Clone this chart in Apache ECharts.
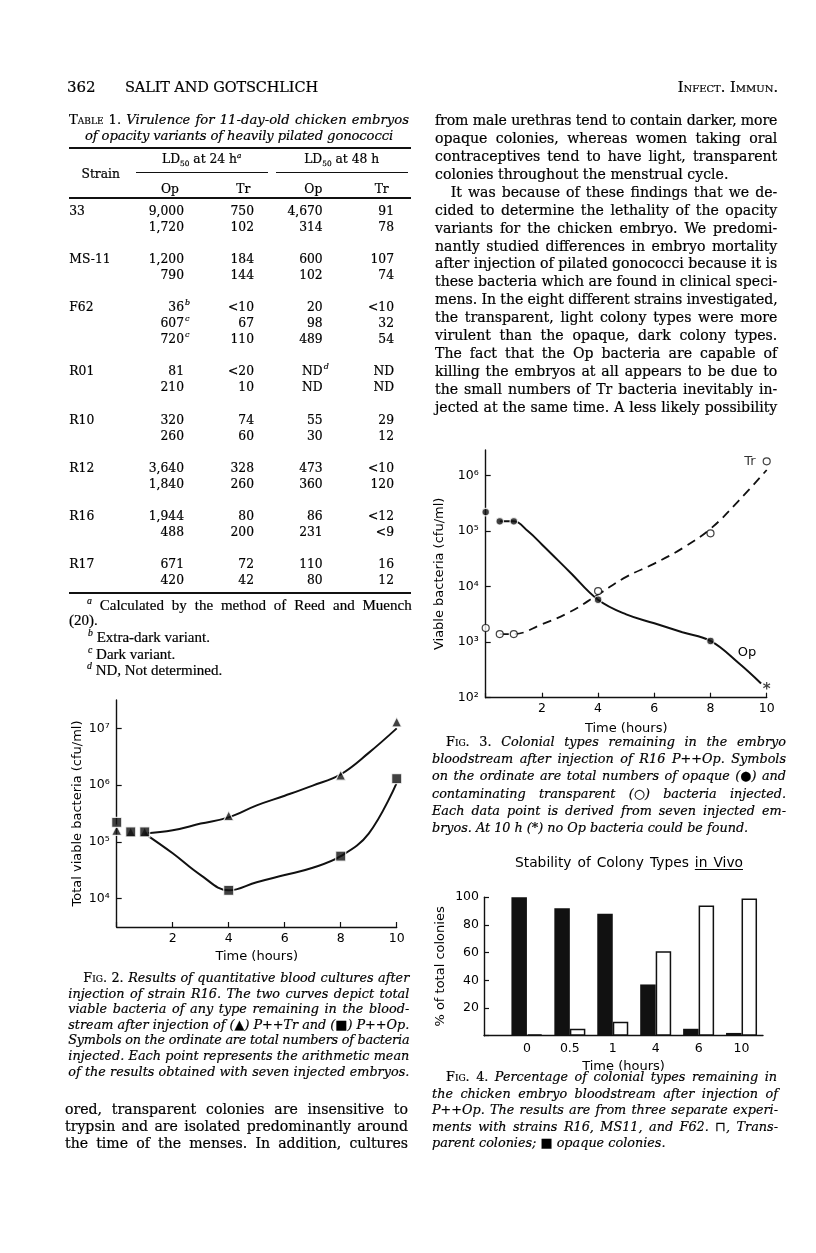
<!DOCTYPE html>
<html><head><meta charset="utf-8">
<script src="https://cdn.jsdelivr.net/npm/echarts@6/dist/echarts.min.js"></script>
<style>
html,body{margin:0;padding:0;background:#fff;}
#page{position:relative;width:816px;height:1253px;overflow:hidden;background:#fff;}
#chart{position:absolute;left:0;top:0;width:816px;height:1253px;}
.t{position:absolute;white-space:nowrap;color:#000;line-height:1;-webkit-text-stroke:0.2px #000;}
.sc{font-style:normal;font-variant:small-caps;}
.rule{position:absolute;background:#111;}
sup,sub{line-height:0;}
</style>
</head><body>
<div id="page"><div id="chart"></div></div>
<script>
// ---------------- DATA ----------------
// Fig. 2: total viable bacteria (cfu/ml) after injection of R16
const fig2Hours = [0, 0.5, 1, 4, 8, 10];
const fig2Tr = [1.6e5, 1.5e5, 1.5e5, 2.9e5, 1.5e6, 1.3e7];      // triangles, P++Tr
const fig2Op = [2.2e5, 1.5e5, 1.5e5, 1.4e4, 5.6e4, 1.3e6];      // squares, P++Op
const fig2CurveHours = [1, 2, 3, 4, 5, 6, 7, 8, 9, 10];
const fig2TrCurve = [1.4e5, 1.6e5, 2.1e5, 2.7e5, 4.4e5, 6.5e5, 9.8e5, 1.55e6, 3.7e6, 1.0e7];
const fig2OpCurve = [1.4e5, 6.3e4, 2.6e4, 1.4e4, 1.95e4, 2.6e4, 3.5e4, 5.6e4, 1.4e5, 1.1e6];
const fig2YTicks = [4, 5, 6, 7];           // log10 exponents
const fig2XTicks = [2, 4, 6, 8, 10];

// Fig. 3: colonial types in bloodstream after R16 P++Op
const fig3OpHours = [0, 0.5, 1, 4, 8];
const fig3Op = [2.2e5, 1.5e5, 1.5e5, 5.8e3, 1.05e3];            // filled circles
const fig3OpNone = [[10, 160]];                                  // asterisk: no Op found
const fig3TrHours = [0, 0.5, 1, 4, 8, 10];
const fig3Tr = [1.8e3, 1.4e3, 1.4e3, 8.3e3, 9.1e4, 1.8e6];      // open circles
const fig3OpCurveHours = [0.5, 1, 1.5, 2, 3, 4, 5, 6, 7, 8, 9, 9.8];
const fig3OpCurve = [1.5e5, 1.5e5, 1.0e5, 5.75e4, 1.82e4, 5.8e3, 3.16e3, 2.19e3, 1.51e3, 1.05e3, 4.2e2, 1.8e2];
const fig3TrCurveHours = [0.5, 1, 2, 3, 4, 5, 6, 7, 8, 9, 10];
const fig3TrCurve = [1.4e3, 1.4e3, 2.1e3, 3.5e3, 7.2e3, 1.5e4, 2.6e4, 4.9e4, 1.1e5, 3.5e5, 1.26e6];
const fig3YTicks = [2, 3, 4, 5, 6];

// Fig. 4: stability of colony types in vivo (% of total colonies)
const fig4Times = ['0', '0.5', '1', '4', '6', '10'];
const fig4Opaque = [100, 92, 88, 37, 5, 2];
const fig4Transparent = [1, 5, 10, 61, 94, 99];
const fig4YTicks = [20, 40, 60, 80, 100];

// Table 1
const tableStrains = ['33', 'MS-11', 'F62', 'R01', 'R10', 'R12', 'R16', 'R17'];
const tableGroupSizes = [2, 2, 3, 2, 2, 2, 2, 2];
const tableRows = [
  ['9,000','750','4,670','91'], ['1,720','102','314','78'],
  ['1,200','184','600','107'], ['790','144','102','74'],
  ['36^b','<10','20','<10'], ['607^c','67','98','32'], ['720^c','110','489','54'],
  ['81','<20','ND^d','ND'], ['210','10','ND','ND'],
  ['320','74','55','29'], ['260','60','30','12'],
  ['3,640','328','473','<10'], ['1,840','260','360','120'],
  ['1,944','80','86','<12'], ['488','200','231','<9'],
  ['671','72','110','16'], ['420','42','80','12']
];

// ---------------- TEXT ----------------
const page = document.getElementById('page');
const SERIF = '"DejaVu Serif", serif';
const TIMES = '"Liberation Serif", serif';
const SANS = '"DejaVu Sans", sans-serif';
function put(html, x, y, o) {
  o = o || {};
  const size = o.size || 13;
  const d = document.createElement('div');
  d.className = 't';
  d.innerHTML = html;
  d.style.fontFamily = o.font || SERIF;
  d.style.fontSize = size + 'px';
  if (o.italic) d.style.fontStyle = 'italic';
  if (o.weight) d.style.fontWeight = o.weight;
  if (o.nostroke) d.style.webkitTextStroke = '0px';
  page.appendChild(d);
  let w = d.getBoundingClientRect().width;
  if (o.w) {
    const txt = d.textContent;
    const spaces = (txt.match(/ /g) || []).length;
    if (w > o.w || !spaces) {
      d.style.letterSpacing = ((o.w - w) / txt.length) + 'px';
    } else {
      d.style.wordSpacing = ((o.w - w) / spaces) + 'px';
    }
    w = o.w;
  }
  let left = x;
  if (o.align === 'right') left = x - w;
  else if (o.align === 'center') left = x - w / 2;
  d.style.left = left + 'px';
  d.style.top = (y - size * 0.55) + 'px';
  return d;
}
function rule(x1, x2, y, h) {
  const r = document.createElement('div');
  r.className = 'rule';
  r.style.left = x1 + 'px'; r.style.width = (x2 - x1) + 'px';
  r.style.top = (y - h / 2) + 'px'; r.style.height = h + 'px';
  page.appendChild(r);
}

// running head
put('362', 67, 88, {size: 15});
put('SALIT AND GOTSCHLICH', 125, 88, {size: 14.5, w: 193});
put('<span style="font-variant:small-caps">Infect. Immun.</span>', 778, 88, {size: 14.5, align: 'right'});

// table title
put('<span class="sc">Table</span> 1. <i>Virulence for 11-day-old chicken embryos</i>', 69, 120, {size: 13.2, w: 340});
put('<i>of opacity variants of heavily pilated gonococci</i>', 85, 136.7, {size: 13.2, w: 308});
rule(69, 411, 148, 2);
put('LD<sub style="font-size:0.6em">50</sub> at 24 h<sup style="font-size:0.6em"><i>a</i></sup>', 201.7, 160, {size: 12.3, align: 'center'});
put('LD<sub style="font-size:0.6em">50</sub> at 48 h', 341.7, 160, {size: 12.3, align: 'center'});
rule(136, 268, 172.3, 1.2);
rule(276, 407.7, 172.3, 1.2);
put('Strain', 100.7, 175, {size: 12.3, align: 'center'});
const headCols = [['Op', 170], ['Tr', 243.3], ['Op', 313.3], ['Tr', 381.7]];
headCols.forEach(c => put(c[0], c[1], 190, {size: 12.3, align: 'center'}));
rule(69, 411, 198, 1.4);
const colRight = [184, 254, 322.7, 394];
let rowIdx = 0, k = 0;
tableGroupSizes.forEach((n, g) => {
  for (let r = 0; r < n; r++) {
    const y = 211.7 + 16.05 * k;
    if (r === 0) put(tableStrains[g], 69.3, y, {size: 12.3});
    tableRows[rowIdx].forEach((cell, c) => {
      const parts = cell.split('^');
      put(parts[0].replace('<', '&lt;'), colRight[c], y, {size: 12.3, align: 'right'});
      if (parts[1]) put('<i>' + parts[1] + '</i>', colRight[c] + 1, y - 4.5, {size: 8});
    });
    rowIdx++; k++;
  }
  k++;
});
rule(69, 411, 593.3, 2);
// footnotes
put('<sup style="font-size:0.65em"><i>a</i></sup> Calculated by the method of Reed and Muench', 87, 606.7, {size: 15, font: TIMES, w: 324.7});
put('(20).', 69, 621.7, {size: 15, font: TIMES});
put('<sup style="font-size:0.65em"><i>b</i></sup> Extra-dark variant.', 88, 638.3, {size: 15, font: TIMES});
put('<sup style="font-size:0.65em"><i>c</i></sup> Dark variant.', 88, 655, {size: 15, font: TIMES});
put('<sup style="font-size:0.65em"><i>d</i></sup> ND, Not determined.', 87, 671.7, {size: 15, font: TIMES});

// right column body
const bodyRight = [
  'from male urethras tend to contain darker, more',
  'opaque colonies, whereas women taking oral',
  'contraceptives tend to have light, transparent',
  'colonies throughout the menstrual cycle.',
  'It was because of these findings that we de-',
  'cided to determine the lethality of the opacity',
  'variants for the chicken embryo. We predomi-',
  'nantly studied differences in embryo mortality',
  'after injection of pilated gonococci because it is',
  'these bacteria which are found in clinical speci-',
  'mens. In the eight different strains investigated,',
  'the transparent, light colony types were more',
  'virulent than the opaque, dark colony types.',
  'The fact that the Op bacteria are capable of',
  'killing the embryos at all appears to be due to',
  'the small numbers of Tr bacteria inevitably in-',
  'jected at the same time. A less likely possibility'
];
const BODY = 14.1;
bodyRight.forEach((s, i) => {
  const y = 121 + 17.9 * i;
  if (i === 3) put(s, 435, y, {size: BODY});
  else if (i === 4) put(s, 450.7, y, {size: BODY, w: 326.6});
  else put(s, 435, y, {size: BODY, w: 342.3});
});

// left column body (bottom)
const bodyLeft = [
  'ored, transparent colonies are insensitive to',
  'trypsin and are isolated predominantly around',
  'the time of the menses. In addition, cultures'
];
bodyLeft.forEach((s, i) => put(s, 65, 1110 + 17 * i, {size: BODY, w: 343}));

// captions
const CAP = 12.8;
const cap2 = [
  '<span class="sc">Fig. 2.</span> Results of quantitative blood cultures after',
  'injection of strain R16. The two curves depict total',
  'viable bacteria of any type remaining in the blood-',
  'stream after injection of (<span style="font-style:normal">▲</span>) P++Tr and (<span style="font-style:normal">■</span>) P++Op.',
  'Symbols on the ordinate are total numbers of bacteria',
  'injected. Each point represents the arithmetic mean',
  'of the results obtained with seven injected embryos.'
];
cap2.forEach((s, i) => {
  const y = 979 + 15.6 * i;
  if (i === 0) put(s, 83.3, y, {size: CAP, italic: true, w: 326});
  else put(s, 68.3, y, {size: CAP, italic: true, w: 341});
});
const cap3 = [
  '<span class="sc">Fig. 3.</span> Colonial types remaining in the embryo',
  'bloodstream after injection of R16 P++Op. Symbols',
  'on the ordinate are total numbers of opaque (<span style="font-style:normal">●</span>) and',
  'contaminating transparent (<span style="font-style:normal">○</span>) bacteria injected.',
  'Each data point is derived from seven injected em-',
  'bryos. At 10 h (*) no Op bacteria could be found.'
];
cap3.forEach((s, i) => {
  const y = 743.3 + 17.1 * i;
  if (i === 0) put(s, 446, y, {size: CAP, italic: true, w: 340});
  else if (i === 5) put(s, 432, y, {size: CAP, italic: true});
  else put(s, 432, y, {size: CAP, italic: true, w: 354});
});
const cap4 = [
  '<span class="sc">Fig. 4.</span> Percentage of colonial types remaining in',
  'the chicken embryo bloodstream after injection of',
  'P++Op. The results are from three separate experi-',
  'ments with strains R16, MS11, and F62. <span style="font-style:normal">⊓</span>, Trans-',
  'parent colonies; <span style="font-style:normal">■</span> opaque colonies.'
];
cap4.forEach((s, i) => {
  const y = 1078.3 + 16.5 * i;
  if (i === 0) put(s, 446, y, {size: CAP, italic: true, w: 331});
  else if (i === 4) put(s, 432, y, {size: CAP, italic: true});
  else put(s, 432, y, {size: CAP, italic: true, w: 346});
});

// Fig 4 heading
put('Stability of Colony Types <u style="text-underline-offset:2px">in Vivo</u>', 629, 864, {size: 13.8, font: SANS, align: 'center', w: 228, nostroke: true});

// ---------------- CHART ----------------
const INK = '#111';
const L = v => Math.log10(v);
const pairs = (xs, vs) => xs.map((x, i) => [x, L(vs[i])]);
const supDigits = {2: '²', 3: '³', 4: '⁴', 5: '⁵', 6: '⁶', 7: '⁷'};
const powLabel = v => (Number.isInteger(v) && supDigits[v]) ? '10' + supDigits[v] : '';
const labelFont = {fontFamily: SANS, fontSize: 12.5, color: '#000'};
const nameFont = {fontFamily: SANS, fontSize: 13, color: '#000'};
const line = {show: true, onZero: false, lineStyle: {color: INK, width: 1.4}};

const chart = echarts.init(document.getElementById('chart'), null, {renderer: 'canvas'});
chart.setOption({
  animation: false,
  grid: [
    {left: 116.7, top: 700, width: 280, height: 227},
    {left: 485.7, top: 450, width: 281, height: 247.7},
    {left: 484, top: 897.2, width: 279, height: 138.5}
  ],
  xAxis: [
    {gridIndex: 0, type: 'value', min: 0, max: 10, interval: 2,
     axisLine: line, splitLine: {show: false},
     axisTick: {inside: true, length: 5, lineStyle: {color: INK, width: 1.2}},
     axisLabel: Object.assign({margin: 5, formatter: v => fig2XTicks.includes(v) ? String(v) : ''}, labelFont),
     name: 'Time (hours)', nameLocation: 'middle', nameGap: 23, nameTextStyle: nameFont},
    {gridIndex: 1, type: 'value', min: 0, max: 10, interval: 2,
     axisLine: line, splitLine: {show: false},
     axisTick: {inside: true, length: 5, lineStyle: {color: INK, width: 1.2}},
     axisLabel: Object.assign({margin: 5, formatter: v => v > 0 ? String(v) : ''}, labelFont),
     name: 'Time (hours)', nameLocation: 'middle', nameGap: 24, nameTextStyle: nameFont},
    {gridIndex: 2, type: 'value', min: -1, max: 5.5, interval: 1,
     axisLine: line, splitLine: {show: false}, axisTick: {show: false},
     axisLabel: Object.assign({margin: 7, formatter: v => (Number.isInteger(v) && v >= 0 && v < fig4Times.length) ? fig4Times[v] : ''}, labelFont),
     name: 'Time (hours)', nameLocation: 'middle', nameGap: 24, nameTextStyle: nameFont}
  ],
  yAxis: [
    {gridIndex: 0, type: 'value', min: 3.5, max: 7.5, interval: 0.5,
     axisLine: line, splitLine: {show: false},
     axisTick: {inside: true, length: 5, customValues: fig2YTicks, lineStyle: {color: INK, width: 1.2}},
     axisLabel: Object.assign({margin: 7, customValues: fig2YTicks, formatter: powLabel}, labelFont),
     name: 'Total viable bacteria (cfu/ml)', nameLocation: 'middle', nameGap: 33, nameTextStyle: nameFont},
    {gridIndex: 1, type: 'value', min: 2, max: 6.46, interval: 0.5,
     axisLine: line, splitLine: {show: false},
     axisTick: {inside: true, length: 5, customValues: fig3YTicks, lineStyle: {color: INK, width: 1.2}},
     axisLabel: Object.assign({margin: 7, customValues: fig3YTicks, formatter: powLabel}, labelFont),
     name: 'Viable bacteria (cfu/ml)', nameLocation: 'middle', nameGap: 40, nameTextStyle: nameFont},
    {gridIndex: 2, type: 'value', min: 0, max: 100, interval: 20,
     axisLine: line, splitLine: {show: false},
     axisTick: {inside: true, length: 5, lineStyle: {color: INK, width: 1.2}},
     axisLabel: Object.assign({margin: 5, formatter: v => fig4YTicks.includes(v) ? String(v) : ''}, labelFont),
     name: '% of total colonies', nameLocation: 'middle', nameGap: 37, nameTextStyle: nameFont}
  ],
  series: [
    // Fig 2
    {type: 'line', xAxisIndex: 0, yAxisIndex: 0, smooth: 0.4, showSymbol: false, symbol: 'none',
     data: pairs(fig2CurveHours, fig2TrCurve), lineStyle: {color: INK, width: 2}},
    {type: 'line', xAxisIndex: 0, yAxisIndex: 0, smooth: 0.4, showSymbol: false, symbol: 'none',
     data: pairs(fig2CurveHours, fig2OpCurve), lineStyle: {color: INK, width: 2}},
    {type: 'scatter', xAxisIndex: 0, yAxisIndex: 0, z: 3, symbol: 'triangle', symbolSize: 10,
     data: pairs(fig2Hours, fig2Tr), itemStyle: {color: INK, borderColor: '#fff', borderWidth: 1.2}},
    {type: 'scatter', xAxisIndex: 0, yAxisIndex: 0, z: 4, symbol: 'rect', symbolSize: 10,
     data: pairs(fig2Hours, fig2Op), itemStyle: {color: INK, borderColor: '#fff', borderWidth: 1.2}},
    // Fig 3
    {type: 'line', xAxisIndex: 1, yAxisIndex: 1, smooth: 0.4, showSymbol: false, symbol: 'none',
     data: pairs(fig3OpCurveHours, fig3OpCurve), lineStyle: {color: INK, width: 2},
     markPoint: {symbol: 'circle', symbolSize: 0, silent: true,
       label: {show: true, formatter: 'Op', position: 'inside', fontFamily: SANS, fontSize: 13, color: '#000'},
       data: [{coord: [9.3, 2.82]}]}},
    {type: 'line', xAxisIndex: 1, yAxisIndex: 1, smooth: 0.4, showSymbol: false, symbol: 'none',
     data: pairs(fig3TrCurveHours, fig3TrCurve), lineStyle: {color: INK, width: 1.8, type: [9, 6]}},
    {type: 'scatter', xAxisIndex: 1, yAxisIndex: 1, z: 3, symbol: 'circle', symbolSize: 7.5,
     data: pairs(fig3OpHours, fig3Op), itemStyle: {color: INK, borderColor: '#fff', borderWidth: 1.2}},
    {type: 'scatter', xAxisIndex: 1, yAxisIndex: 1, z: 3, symbol: 'circle', symbolSize: 7,
     data: pairs(fig3TrHours, fig3Tr).map((p, i) => i === fig3TrHours.length - 1
       ? {value: p, label: {show: true, formatter: 'Tr', position: 'left', distance: 7, fontFamily: SANS, fontSize: 13, color: '#000'}}
       : p),
     itemStyle: {color: '#fff', borderColor: INK, borderWidth: 1.2}},
    {type: 'scatter', xAxisIndex: 1, yAxisIndex: 1, z: 3, symbol: 'circle', symbolSize: 1,
     data: fig3OpNone.map(p => [p[0], L(p[1])]), itemStyle: {color: 'rgba(0,0,0,0)'},
     label: {show: true, formatter: '*', position: 'inside', offset: [0, 4], fontFamily: SANS, fontSize: 15, fontWeight: 'bold', color: INK}},
    // Fig 4
    {type: 'bar', xAxisIndex: 2, yAxisIndex: 2, barWidth: 15.5, barGap: '0%',
     data: fig4Opaque.map((v, i) => [i, v]), itemStyle: {color: INK}},
    {type: 'bar', xAxisIndex: 2, yAxisIndex: 2, barWidth: 15.5, barGap: '0%',
     data: fig4Transparent.map((v, i) => [i, v]), itemStyle: {color: '#fff', borderColor: INK, borderWidth: 1.5}}
  ]
});
</script>
</body></html>
